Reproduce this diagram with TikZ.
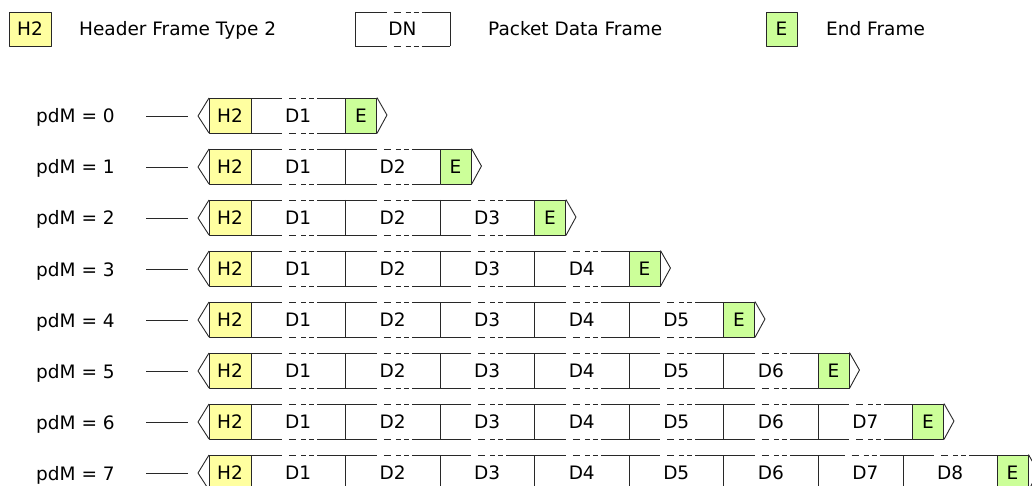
\documentclass[tikz,border=0pt]{standalone}
\usepackage{fontspec}
\setmainfont{DejaVu Sans}
\definecolor{yellowfill}{RGB}{255,255,160}
\definecolor{greenfill}{RGB}{204,255,153}
\definecolor{lncol}{RGB}{40,40,40}
\newcommand\dline[3]{%
  \pgfmathsetmacro\dc{(#1+#2)/2}%
  \draw[ln] (#1,#3) -- (\dc-16,#3) (\dc-9,#3) -- (\dc-2,#3) (\dc+3,#3) -- (\dc+8,#3) (\dc+11,#3) -- (\dc+16,#3) (\dc+19,#3) -- (#2,#3);%
}
\begin{document}
\begin{tikzpicture}[x=1pt,y=-1pt,
  ln/.style={draw=lncol, line width=0.9pt, line join=round},
  lbl/.style={font=\fontsize{18.5}{20}\selectfont, inner sep=0pt, text=black},
  hbox/.style={ln, lbl, fill=yellowfill, minimum width=42pt, minimum height=35pt},
  ebox/.style={ln, lbl, fill=greenfill, minimum width=31pt, minimum height=35pt},
  dtext/.style={lbl, minimum height=35pt},
]
\useasboundingbox (0,0) rectangle (1032,486);
\fill[white] (0,0) rectangle (1032,486);
% legend
\node[hbox, minimum height=34pt] (legH) at (30,29) {H2};
\node[lbl, anchor=base west] (legHt) at (79,36) {Header Frame Type 2};
\node[dtext, minimum width=95pt, minimum height=34pt] (legD) at (402.5,29) {DN};
\dline{355}{450}{12}
\dline{355}{450}{46}
\draw[ln] (355,12) -- (355,46) (450,12) -- (450,46);
\node[lbl, anchor=base west] (legDt) at (488,36) {Packet Data Frame};
\node[ebox, minimum height=34pt] (legE) at (781.5,29) {E};
\node[lbl, anchor=base west] (legEt) at (826,36) {End Frame};
% rows
\foreach \i in {0,...,7} {
  \pgfmathsetmacro\yc{116+51*\i}
  \pgfmathsetmacro\yt{\yc-18}
  \pgfmathsetmacro\yb{\yc+17}
  \pgfmathtruncatemacro\n{\i+1}
  \node[lbl, anchor=base west] (pdm\i) at (36,\yc+7) {pdM = \i};
  \coordinate (ls\i) at (146,\yc);
  \coordinate (le\i) at (188,\yc);
  \draw[ln] (ls\i) -- (le\i);
  \draw[ln] (209,\yt) -- (198,\yc) -- (209,\yb);
  \foreach \k in {1,...,\n} {
    \pgfmathsetmacro\xa{251+94.5*(\k-1)}
    \pgfmathsetmacro\xb{\xa+94.5}
    \pgfmathsetmacro\xl{\xa+47.25}
    \ifnum\i=7
      \ifnum\k=7 \pgfmathsetmacro\xb{903}\fi
      \ifnum\k=8 \pgfmathsetmacro\xa{903}\pgfmathsetmacro\xb{997}\pgfmathsetmacro\xl{950}\fi
    \fi
    \dline{\xa}{\xb}{\yt}
    \dline{\xa}{\xb}{\yb}
    \ifnum\k>1 \draw[ln] (\xa,\yt) -- (\xa,\yb); \fi
    \node[dtext] (d\i-\k) at (\xl,\yc-0.5) {D\k};
  }
  \pgfmathsetmacro\xe{251+94.5*\n}
  \ifnum\i=7 \pgfmathsetmacro\xe{997}\fi
  \node[hbox] (h\i) at (230,\yc-0.5) {H2};
  \node[ebox] (e\i) at (\xe+15.5,\yc-0.5) {E};
  \draw[ln] (e\i.north east) -- ++(10,17.5) -- (e\i.south east);
}
\end{tikzpicture}
\end{document}
